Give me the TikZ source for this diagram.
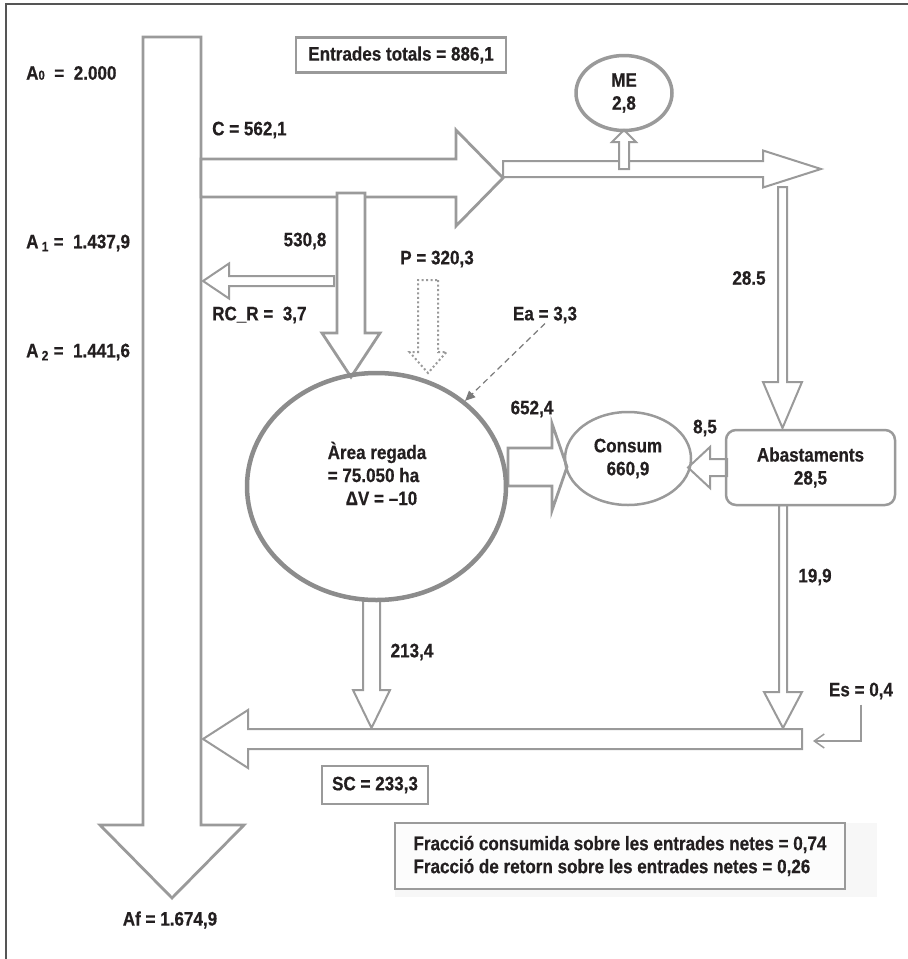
\documentclass[tikz,border=0pt]{standalone}
\usepackage{fontspec}
\setmainfont{Liberation Sans}[FakeStretch=0.875, BoldFeatures={FakeBold=0.5}]
\usetikzlibrary{shapes.geometric,arrows.meta}

\definecolor{flowgray}{HTML}{9A9A9A}
\definecolor{ringgray}{HTML}{8C8C8C}
\definecolor{inkgray}{HTML}{231F20}
\definecolor{framegray}{HTML}{555555}
\definecolor{shadegray}{HTML}{F7F7F7}

\tikzset{
  pics/flow/.style n args={4}{code={
    \draw[pic actions] (0,-#2) -- ({#1-#4},-#2) -- ({#1-#4},-#3) -- (#1,0)
      -- ({#1-#4},#3) -- ({#1-#4},#2) -- (0,#2) -- cycle;
  }}
}

\begin{document}
\begin{tikzpicture}[x=1pt, y=-1pt,
  every node/.style={text=inkgray, font=\fontsize{19.5}{23}\selectfont\bfseries},
  figlabel/.style={inner sep=0pt},
  fatflow/.style={draw=flowgray, fill=white, line width=2.8pt},
  thinflow/.style={draw=flowgray, fill=white, line width=2pt},
  boxed/.style={draw=flowgray, line width=2.8pt, inner sep=0pt}]

\useasboundingbox (0,0) rectangle (908,959);
\draw[framegray, line width=1.5pt] (6,959) -- (6,4) -- (908,4);

% block arrows: tail, length, shaft, head, head length
\pic[fatflow, rotate=-90] at (172,37) {flow={861}{29}{72}{73}};
\pic[fatflow] at (201,178) {flow={302}{19}{48}{47}};
\pic[thinflow] at (503,169) {flow={318}{8}{18.5}{58}};
\pic[thinflow, rotate=90] at (624,169) {flow={39}{5}{12}{12}};
\pic[fatflow, rotate=-90] at (351,193) {flow={184}{14}{29}{44}};
\pic[thinflow, rotate=180] at (334,281) {flow={131}{5}{17.5}{26}};
\pic[draw=flowgray, line width=2pt, dash pattern=on 2pt off 2.5pt, rotate=-90]
  at (428,280) {flow={93}{10}{18.5}{21}};
\pic[fatflow] at (508,467) {flow={59}{19}{43.5}{15}};
\pic[thinflow, rotate=180] at (727,467.5) {flow={39}{8.5}{20.5}{22}};
\pic[thinflow, rotate=-90] at (782.5,187) {flow={241}{4.5}{19.5}{46}};
\pic[thinflow, rotate=-90] at (783,505) {flow={223}{4}{19}{36}};
\pic[thinflow, rotate=-90] at (371.5,600) {flow={128}{8.5}{18.5}{38}};
\pic[thinflow, rotate=180] at (802,739) {flow={599}{10}{29}{45}};
\coordinate (sc-tail) at (813,741);

% balance nodes
\node (me) [ellipse, draw=flowgray, line width=3.5pt, minimum width=96,
  minimum height=75, inner sep=0pt, align=center] at (624,93) {ME\\2,8};
\node (area) [ellipse, draw=ringgray, line width=4.5pt, minimum width=259,
  minimum height=227] at (376.5,486.5) {};
\node (area-text) [figlabel, align=left] at (377,473.5)
  {Àrea regada\\= 75.050 ha\\\hspace*{18pt}ΔV = –10};
\node (use) [ellipse, draw=flowgray, line width=2.5pt, minimum width=126,
  minimum height=93, inner sep=0pt, align=center] at (628,458.5) {Consum\\660,9};
\node (supply) [draw=flowgray, rounded corners=10pt, line width=2.5pt,
  minimum width=169, minimum height=75, align=center] at (810.5,467.5)
  {Abastaments\\28,5};
\node (total) [boxed, minimum width=210, minimum height=35] at (401,55)
  {Entrades totals = 886,1};
\node (sc) [boxed, minimum width=106, minimum height=38] at (375,785)
  {SC = 233,3};

\fill[shadegray] (395,823) rectangle (877,897);
\node (ratios) [draw=flowgray, fill=white!60!shadegray, line width=2pt,
  minimum width=450, minimum height=66, inner sep=0pt, align=left] at (620,856)
  {Fracció consumida sobre les entrades netes = 0,74\\
   Fracció de retorn sobre les entrades netes = 0,26};

% flow labels
\node (a0) [figlabel, anchor=west] at (26,73)
  {A{\fontsize{13}{13}\selectfont 0}\ \ =\ \ 2.000};
\node (a1) [figlabel, anchor=west] at (26,243) {A\,\textsubscript{1} = \ 1.437,9};
\node (a2) [figlabel, anchor=west] at (26,352) {A\,\textsubscript{2} = \ 1.441,6};
\node (c-lbl) [figlabel, anchor=west] at (212,130) {C = 562,1};
\node (flow-530) [figlabel] at (305,241) {530,8};
\node (rcr) [figlabel, anchor=west] at (212,315) {RC\_R = \ 3,7};
\node (p-lbl) [figlabel] at (437,259) {P = 320,3};
\node (ea) [figlabel] at (545,315) {Ea = 3,3};
\node (flow-652) [figlabel] at (532,409) {652,4};
\node (flow-85) [figlabel] at (705,428) {8,5};
\node (flow-285) [figlabel] at (749,278) {28.5};
\node (flow-199) [figlabel] at (815,577) {19,9};
\node (flow-213) [figlabel] at (412,652) {213,4};
\node (es) [figlabel, inner ysep=5pt] at (861,691) {Es = 0,4};
\node (af) [figlabel] at (170,920) {Af = 1.674,9};

\draw[flowgray!80!black, line width=1.2pt, dash pattern=on 6pt off 4pt,
  -{Triangle[length=10pt,width=9pt]}] (ea.south) -- (area);
\draw[flowgray, line width=1.5pt, -{Straight Barb[length=10pt,width=14pt]}]
  (es.south) |- (sc-tail);

\end{tikzpicture}
\end{document}
